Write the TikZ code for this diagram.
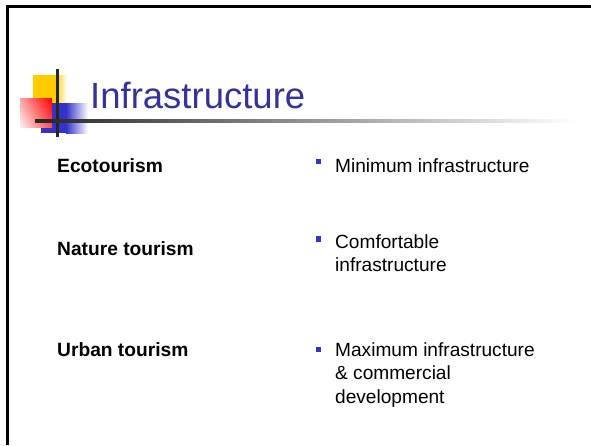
\documentclass[tikz,border=0pt]{standalone}
\usepackage{fontspec}
\setmainfont{Liberation Sans}
\definecolor{titleblue}{HTML}{333399}
\definecolor{bulletblue}{HTML}{3333CC}
\definecolor{deco yellow}{HTML}{FFCC00}
\definecolor{deco blue}{HTML}{3333CC}
\definecolor{deco red}{HTML}{FF0000}
\begin{document}
\begin{tikzpicture}[x=1pt,y=-1pt,
  title/.style={anchor=base west,inner sep=0pt,text=titleblue,font=\fontsize{36.5}{40}\selectfont},
  term/.style={anchor=base west,inner sep=0pt,font=\fontsize{19.2}{22}\selectfont\bfseries},
  desc/.style={anchor=base west,inner sep=0pt,font=\fontsize{19.1}{22}\selectfont},
  bulletbox/.style={fill=bulletblue}]
\useasboundingbox (0,0) rectangle (591,445);
\fill[white] (0,0) rectangle (591,445);
% frame
\draw[line width=2.6pt,black] (7.5,445) -- (7.5,6.5) -- (591,6.5);
% decoration squares
\fill[deco yellow] (33,75) rectangle (55,103);
\shade[left color=deco yellow,right color=white] (55,75) rectangle (67,103);
\fill[deco blue] (41,103) rectangle (66,133);
\shade[left color=deco blue,right color=white] (66,103) rectangle (88,133);
\shade[left color=red!8,right color=deco red] (20,98) rectangle (52,127);
\shade[top color=deco red,bottom color=white,opacity=0.3] (20,98) rectangle (52,127);
% lines
\fill[black!85] (55.8,69) rectangle (58.8,137);
\shade[left color=black!85,right color=white] (35,119.8) rectangle (575,122.3);
% title
\node[title] (t) at (90,108) {Infrastructure};
% rows
\node[term] (eco) at (57,172) {Ecotourism};
\fill[bulletblue] (315.5,159.2) rectangle (321,164.4);
\node[desc] (d1) at (335,172) {Minimum infrastructure};

\node[term] (nat) at (57,255.7) {Nature tourism};
\fill[bulletblue] (315.5,236.3) rectangle (321,241.5);
\node[desc] (d2a) at (335,248.3) {Comfortable};
\node[desc] (d2b) at (335,271.7) {infrastructure};

\node[term] (urb) at (57,356) {Urban tourism};
\fill[bulletblue] (315.5,346.9) rectangle (321,352.1);
\node[desc] (d3a) at (335,356) {Maximum infrastructure};
\node[desc] (d3b) at (335,379.5) {\& commercial};
\node[desc] (d3c) at (335,403) {development};
\end{tikzpicture}
\end{document}
